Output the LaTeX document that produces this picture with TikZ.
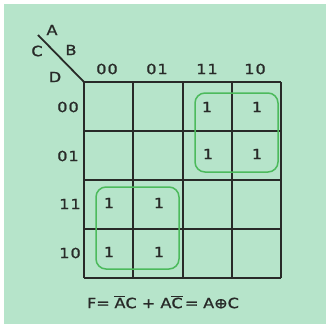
\documentclass[tikz,border=0pt]{standalone}
\usepackage{fontspec}
\setmainfont{DejaVu Sans}
\newfontfamily\kfont[FakeStretch=1.15,FakeBold=1.2]{DejaVu Sans}
\definecolor{bgmint}{RGB}{182,228,202}
\definecolor{loopgreen}{RGB}{76,186,92}
\definecolor{ink}{RGB}{40,42,40}
\begin{document}
\begin{tikzpicture}[x=1pt,y=-1pt,
  gridline/.style={draw=ink,line width=1.8pt},
  lbl/.style={font=\kfont\fontsize{14}{14}\selectfont,text=ink,inner sep=0pt},
  one/.style={font=\kfont\fontsize{14}{14}\selectfont,text=ink,inner sep=0pt},
  loopbox/.style={draw=loopgreen,line width=1.5pt,rounded corners=10pt}]
\useasboundingbox (0,0) rectangle (326,324);
\fill[white] (0,0) rectangle (326,324);
\fill[bgmint] (4,4) rectangle (326,324);
% grid
\foreach \xx in {84,133,183,232,281} {
  \draw[gridline] (\xx,82) -- (\xx,278);
}
\foreach \yy in {82,131,180,229,278} {
  \draw[gridline] (84,\yy) -- (281,\yy);
}
% diagonal
\coordinate (dtop) at (38,35);
\coordinate (corner) at (84,82);
\draw[draw=ink,line width=1.8pt] (dtop) -- (corner);
\node[lbl] (A) at (52,30) {A};
\node[lbl] (B) at (71,50) {B};
\node[lbl] (C) at (37,51) {C};
\node[lbl] (D) at (55,77) {D};
% column headers
\node[lbl] (c1) at (107,69) {0\kern1pt0};
\node[lbl] (c2) at (157,69) {0\kern1pt1};
\node[lbl] (c3) at (207,69) {1\kern1pt1};
\node[lbl] (c4) at (255,69) {1\kern1pt0};
% row headers
\node[lbl] (r1) at (68,107) {0\kern1pt0};
\node[lbl] (r2) at (68,156) {0\kern1pt1};
\node[lbl] (r3) at (70,204) {1\kern1pt1};
\node[lbl] (r4) at (70,253) {1\kern1pt0};
% ones
\node[one] (m1) at (207,107) {1};
\node[one] (m2) at (257,107) {1};
\node[one] (m3) at (208,154) {1};
\node[one] (m4) at (257,154) {1};
\node[one] (m5) at (109,203) {1};
\node[one] (m6) at (159,203) {1};
\node[one] (m7) at (109,252) {1};
\node[one] (m8) at (159,252) {1};
% loops
\draw[loopbox] (195,93) rectangle (278,172);
\draw[loopbox] (96,187) rectangle (179,269);
% formula
\node[lbl] (F) at (163,302)
  {F=\,\,$\overline{\mbox{A}}$C + A$\overline{\mbox{C}}$\,=\,\,A⊕C};
\end{tikzpicture}
\end{document}
